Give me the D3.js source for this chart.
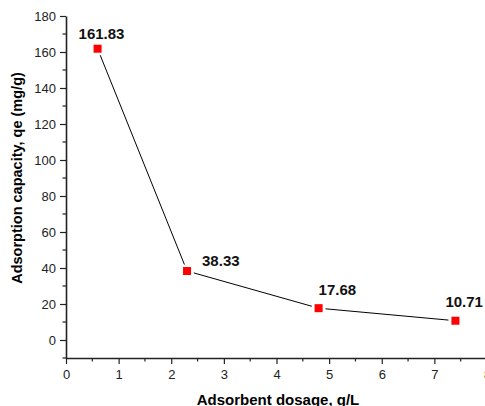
<!DOCTYPE html>
<html><head><meta charset="utf-8">
<script src="https://cdn.jsdelivr.net/npm/d3@7"></script>
<style>body{margin:0;background:#fff}svg{display:block;font-family:"Liberation Sans",Arial,sans-serif}</style>
</head><body><div id="chart"></div>
<script>
const dosage = [0.6, 2.3, 4.8, 7.4];
const capacity = [161.83, 38.33, 17.68, 10.71];
const pointLabels = ["161.83", "38.33", "17.68", "10.71"];
const xTicks = [0, 1, 2, 3, 4, 5, 6, 7, 8];
const yTicks = [0, 20, 40, 60, 80, 100, 120, 140, 160, 180];

const W = 485, H = 406;
const svg = d3.select("#chart").append("svg").attr("width", W).attr("height", H);
const x = d3.scaleLinear().domain([0, 8]).range([66, 487]);
const y = d3.scaleLinear().domain([-10, 180]).range([358, 16]);

const axisColor = "#222";
// X axis
const gx = svg.append("g").attr("transform", `translate(0,${y(-10)})`);
gx.call(d3.axisBottom(x).tickValues(xTicks).tickFormat(d3.format("d")).tickSize(6).tickSizeOuter(0));
d3.range(0.5, 8, 1).forEach(v => {
  gx.append("line").attr("x1", x(v)).attr("x2", x(v)).attr("y1", 0).attr("y2", 3.5).attr("stroke", axisColor).attr("stroke-width", 1.2);
});
// Y axis
const gy = svg.append("g").attr("transform", `translate(${x(0)},0)`);
gy.call(d3.axisLeft(y).tickValues(yTicks).tickSize(6).tickSizeOuter(0));
d3.range(-10, 180, 20).forEach(v => {
  gy.append("line").attr("x1", 0).attr("x2", -3.5).attr("y1", y(v)).attr("y2", y(v)).attr("stroke", axisColor).attr("stroke-width", 1.2);
});
[gx, gy].forEach(g => {
  g.select(".domain").attr("stroke", axisColor).attr("stroke-width", 1.6);
  g.selectAll(".tick line").attr("stroke", axisColor).attr("stroke-width", 1.2);
  g.selectAll(".tick text").attr("fill", "#222").style("font-size", "13px").style("font-family", "'Liberation Sans',Arial,sans-serif");
});
gx.selectAll(".tick text").attr("dy", "0.9em");
gy.selectAll(".tick text").attr("dx", "-1px");

// line with small gaps near markers
const pts = dosage.map((d, i) => [d, capacity[i]]);
const gap = 7;
for (let i = 0; i < pts.length - 1; i++) {
  const x1 = x(pts[i][0]), y1 = y(pts[i][1]), x2 = x(pts[i + 1][0]), y2 = y(pts[i + 1][1]);
  const len = Math.hypot(x2 - x1, y2 - y1), ux = (x2 - x1) / len, uy = (y2 - y1) / len;
  svg.append("line").attr("x1", x1 + ux * gap).attr("y1", y1 + uy * gap)
    .attr("x2", x2 - ux * gap).attr("y2", y2 - uy * gap)
    .attr("stroke", "#000").attr("stroke-width", 1);
}

// markers
svg.selectAll("rect.m").data(pts).enter().append("rect")
  .attr("x", d => x(d[0]) - 4).attr("y", d => y(d[1]) - 4)
  .attr("width", 8).attr("height", 8).attr("fill", "#ff0000");

// value labels
const labelOffsets = [[-19, -10], [15, -5], [0, -13], [-10, -14]];
svg.selectAll("text.v").data(pts).enter().append("text")
  .attr("x", (d, i) => x(d[0]) + labelOffsets[i][0])
  .attr("y", (d, i) => y(d[1]) + labelOffsets[i][1])
  .text((d, i) => pointLabels[i])
  .style("font-size", "15px").style("font-weight", "bold").attr("fill", "#111");

// axis titles
svg.append("text").attr("x", 278).attr("y", 405).attr("text-anchor", "middle")
  .style("font-size", "15px").style("font-weight", "bold").text("Adsorbent dosage, g/L");
svg.append("text").attr("transform", `translate(22,${178}) rotate(-90)`).attr("text-anchor", "middle")
  .style("font-size", "14.5px").style("font-weight", "bold").text("Adsorption capacity, qe (mg/g)");
</script></body></html>
